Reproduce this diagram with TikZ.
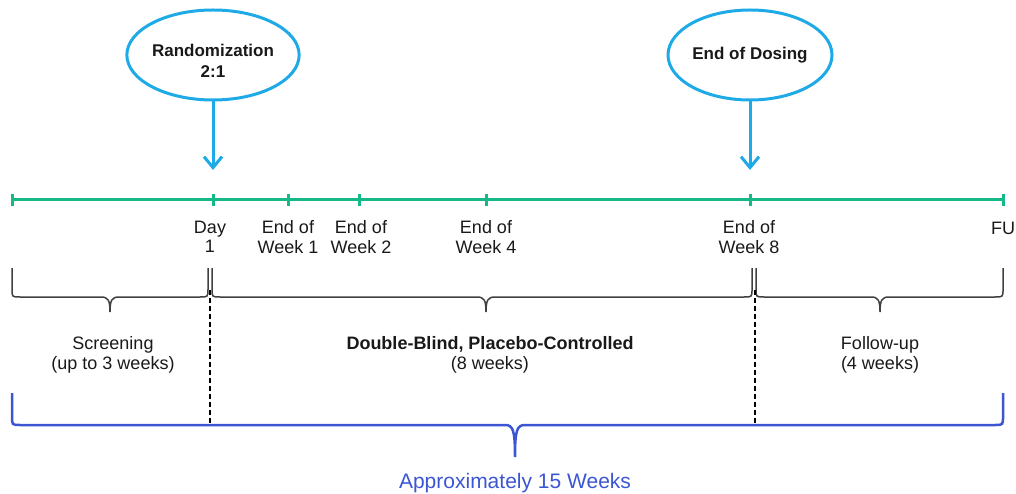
\documentclass[tikz,border=0pt]{standalone}
\usepackage{fontspec}
\setmainfont{Liberation Sans}
\usetikzlibrary{arrows.meta,shapes.geometric}
\definecolor{tlgreen}{RGB}{20,185,135}
\definecolor{callblue}{RGB}{30,170,230}
\definecolor{spanblue}{RGB}{60,85,210}
\definecolor{txt}{RGB}{25,25,25}
\tikzset{
	milestone/.style={ellipse, draw=callblue, line width=3, minimum width=172, minimum height=90, inner sep=0, align=center, text=txt, font=\fontsize{17}{21}\selectfont\bfseries},
	callarrow/.style={draw=callblue, line width=3, -{Straight Barb[length=11,width=18]}},
	lbl/.style={align=center, text=txt, inner sep=0, font=\fontsize{18}{19.5}\selectfont},
	brc/.style={draw=black!75, line width=1.5},
}
\begin{document}
\begin{tikzpicture}[x=1pt,y=-1pt]
\useasboundingbox (0,0) rectangle (1016,494);
% timeline
\foreach \n/\x in {scr/12, d1/213, w1/288, w2/359, w4/486, w8/750, fu/1003}
	\coordinate (\n) at (\x,200);
\draw[tlgreen, line width=3] (scr) -- (fu);
\foreach \n in {scr, d1, w1, w2, w4, w8, fu}
	\draw[tlgreen, line width=3] ([yshift=6]\n) -- ([yshift=-6]\n);

\node[milestone] (rand) at (213,55) {\rule{0pt}{24pt}Randomization\\2:1};
\node[milestone, minimum width=164] (dose) at (750,55) {End of Dosing};
\draw[callarrow] (rand) -- ([yshift=30]d1);
\draw[callarrow] (dose) -- ([yshift=30]w8);

\node[lbl] (ld1) at (210,237) {Day\\1};
\node[lbl] (lw1) at (288,237) {End of\\Week 1};
\node[lbl] (lw2) at (361,237) {End of\\Week 2};
\node[lbl] (lw4) at (486,237) {End of\\Week 4};
\node[lbl] (lw8) at (749,237) {End of\\Week 8};
\node[lbl] (lfu) at (1003,228) {FU};

% phase braces
\foreach \a/\m/\b in {12/110/208, 212/486/752, 756/880/1003}
	\draw[brc] (\a,268) -- (\a,289) .. controls (\a,297) .. (\a+8,297) -- (\m-9,297)
		.. controls (\m-2,297) and (\m,300) .. (\m,312)
		.. controls (\m,300) and (\m+2,297) .. (\m+9,297) -- (\b-8,297)
		.. controls (\b,297) .. (\b,289) -- (\b,268);
\foreach \x in {210,755}
	\draw[black, line width=1.2, dash pattern=on 5 off 3] (\x,290) -- (\x,425);

\node[lbl] (scrtxt) at (113,355) {Screening\\(up to 3 weeks)};
\node[lbl] (dbtxt) at (490,355) {{\bfseries Double-Blind, Placebo-Controlled}\\(8 weeks)};
\node[lbl] (futxt) at (880,355) {Follow-up\\(4 weeks)};

% total span
\draw[spanblue, line width=2.5] (12,393) -- (12,416) .. controls (12,425) .. (20,425) -- (505,425)
	.. controls (513,425) and (515,430) .. (515,457)
	.. controls (515,430) and (517,425) .. (525,425) -- (995,425)
	.. controls (1003,425) .. (1003,416) -- (1003,393);
\node[lbl, text=spanblue, font=\fontsize{21}{24}\selectfont] (total) at (515,483) {Approximately 15 Weeks};
\end{tikzpicture}
\end{document}
